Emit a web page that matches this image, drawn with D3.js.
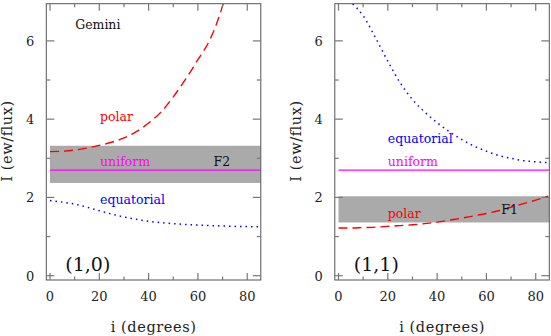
<!DOCTYPE html>
<html>
<head>
<meta charset="utf-8">
<script src="https://cdn.jsdelivr.net/npm/d3@7"></script>
<style>
  body { margin: 0; background: #fff; }
  svg { display: block; }
  text { font-family: "DejaVu Serif", serif; }
</style>
</head>
<body>
<svg id="chart" width="551" height="336"></svg>
<script>
// inclination grid used for every curve
const incl = [0, 5, 10, 15, 20, 25, 30, 35, 40, 45, 50, 55, 60, 65, 70, 75, 80, 85];

// panel (1,0)
const polarA = [3.17, 3.18, 3.21, 3.26, 3.33, 3.41, 3.52, 3.68, 3.90, 4.18, 4.57, 5.02, 5.52, 6.05, 6.90, 8.2, 9.8, 12.0];
const equatA = [1.92, 1.88, 1.83, 1.75, 1.66, 1.575, 1.50, 1.44, 1.39, 1.355, 1.33, 1.31, 1.295, 1.28, 1.27, 1.26, 1.255, 1.25];
const uniformA = 2.70;
const bandA = [2.37, 3.32];

// panel (1,1)
const polarB = [1.22, 1.22, 1.23, 1.24, 1.26, 1.28, 1.30, 1.33, 1.37, 1.42, 1.47, 1.53, 1.59, 1.66, 1.75, 1.84, 1.93, 2.03];
const equatB = [7.15, 6.98, 6.64, 6.08, 5.48, 4.93, 4.50, 4.18, 3.91, 3.68, 3.48, 3.31, 3.18, 3.07, 3.00, 2.94, 2.91, 2.89];
const uniformB = 2.70;
const bandB = [1.36, 2.03];

const xTicks = [0, 20, 40, 60, 80];
const yTicks = [0, 2, 4, 6];

const svg = d3.select('#chart');

function panel(opts) {
  const x = d3.scaleLinear().domain([-1.5, 85.5]).range([opts.left, opts.left + 214.5]);
  const y = d3.scaleLinear().domain([-0.11, 6.95]).range([280, 3.7]);
  const g = svg.append('g');
  const id = 'clip' + opts.name;

  g.append('clipPath').attr('id', id)
    .append('rect')
    .attr('x', x.range()[0]).attr('y', y.range()[1])
    .attr('width', x.range()[1] - x.range()[0])
    .attr('height', y.range()[0] - y.range()[1]);

  const plot = g.append('g').attr('clip-path', 'url(#' + id + ')');

  // shaded observed range
  plot.append('rect')
    .attr('x', x(0)).attr('y', y(opts.band[1]))
    .attr('width', x(85.5) - x(0))
    .attr('height', y(opts.band[0]) - y(opts.band[1]))
    .attr('fill', '#aaaaaa');

  // uniform line
  plot.append('line')
    .attr('x1', x(0)).attr('x2', x(85.5))
    .attr('y1', y(opts.uniform)).attr('y2', y(opts.uniform))
    .attr('stroke', '#ff00ff').attr('stroke-width', 1.3);

  const line = d3.line()
    .x((d, i) => x(incl[i]))
    .y(d => y(d))
    .curve(d3.curveMonotoneX);

  plot.append('path').datum(opts.polar)
    .attr('d', line)
    .attr('fill', 'none').attr('stroke', '#ff0000')
    .attr('stroke-width', 1.4).attr('stroke-dasharray', '9,5');

  plot.append('path').datum(opts.equat)
    .attr('d', line)
    .attr('fill', 'none').attr('stroke', '#0000ff')
    .attr('stroke-width', 1.5).attr('stroke-dasharray', '1.5,4');

  // frame
  g.append('rect')
    .attr('x', x.range()[0]).attr('y', y.range()[1])
    .attr('width', x.range()[1] - x.range()[0])
    .attr('height', y.range()[0] - y.range()[1])
    .attr('fill', 'none').attr('stroke', '#555').attr('stroke-width', 1);

  // ticks on all four sides, pointing in
  const tickCol = '#777';
  d3.range(0, 85, 10).forEach(v => {
    const len = v % 20 === 0 ? 7 : 3.5;
    g.append('line').attr('x1', x(v)).attr('x2', x(v))
      .attr('y1', y.range()[0]).attr('y2', y.range()[0] - len)
      .attr('stroke', tickCol).attr('stroke-width', 1.2);
    g.append('line').attr('x1', x(v)).attr('x2', x(v))
      .attr('y1', y.range()[1]).attr('y2', y.range()[1] + len)
      .attr('stroke', tickCol).attr('stroke-width', 1.2);
  });
  d3.range(0, 7, 1).forEach(v => {
    const len = v % 2 === 0 ? 8 : 4;
    g.append('line').attr('y1', y(v)).attr('y2', y(v))
      .attr('x1', x.range()[0]).attr('x2', x.range()[0] + len)
      .attr('stroke', tickCol).attr('stroke-width', 1.2);
    g.append('line').attr('y1', y(v)).attr('y2', y(v))
      .attr('x1', x.range()[1]).attr('x2', x.range()[1] - len)
      .attr('stroke', tickCol).attr('stroke-width', 1.2);
  });

  // tick labels
  g.selectAll('.xl').data(xTicks).enter().append('text')
    .attr('x', d => x(d)).attr('y', 301)
    .attr('text-anchor', 'middle').attr('font-size', 13).attr('fill', '#222')
    .text(d => d);
  g.selectAll('.yl').data(yTicks).enter().append('text')
    .attr('x', x.range()[0] - 12).attr('y', d => y(d) + 5)
    .attr('text-anchor', 'end').attr('font-size', 13).attr('fill', '#222')
    .text(d => d);

  // axis titles
  g.append('text')
    .attr('x', (x.range()[0] + x.range()[1]) / 2).attr('y', 332)
    .attr('text-anchor', 'middle').attr('font-size', 14.5).attr('fill', '#222')
    .attr('letter-spacing', 0.6)
    .text('i (degrees)');
  g.append('text')
    .attr('transform', 'translate(' + (x.range()[0] - 34) + ',' + 141 + ') rotate(-90)')
    .attr('text-anchor', 'middle').attr('font-size', 14.5).attr('fill', '#222')
    .attr('letter-spacing', 0.6)
    .text('I (ew/flux)');

  // curve labels
  opts.labels.forEach(l => {
    g.append('text')
      .attr('x', x(l.i)).attr('y', y(l.v))
      .attr('font-size', l.size || 12.5).attr('fill', l.color)
      .text(l.text);
  });
}

panel({
  name: 'A', left: 46.3,
  polar: polarA, equat: equatA, uniform: uniformA, band: bandA,
  labels: [
    { text: 'Gemini', i: 10.2, v: 6.3, color: '#111' },
    { text: 'polar', i: 20.3, v: 3.95, color: '#ff0000' },
    { text: 'uniform', i: 20.3, v: 2.8, color: '#ff00ff' },
    { text: 'F2', i: 66.3, v: 2.8, color: '#111' },
    { text: 'equatorial', i: 20.3, v: 1.83, color: '#0000ff' },
    { text: '(1,0)', i: 6.2, v: 0.13, color: '#111', size: 19 }
  ]
});

panel({
  name: 'B', left: 334.8,
  polar: polarB, equat: equatB, uniform: uniformB, band: bandB,
  labels: [
    { text: 'equatorial', i: 20, v: 3.4, color: '#0000ff' },
    { text: 'uniform', i: 20, v: 2.8, color: '#ff00ff' },
    { text: 'polar', i: 20, v: 1.48, color: '#ff0000' },
    { text: 'F1', i: 66, v: 1.58, color: '#111' },
    { text: '(1,1)', i: 6.2, v: 0.13, color: '#111', size: 19 }
  ]
});
</script>
</body>
</html>
